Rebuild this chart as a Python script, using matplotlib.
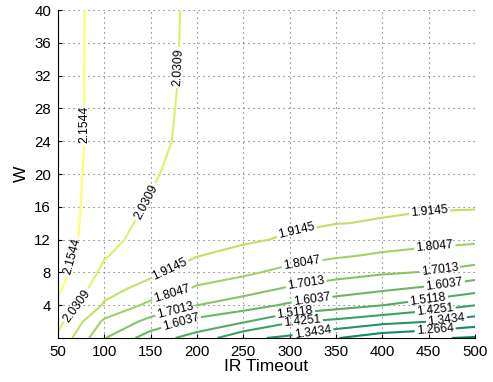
import numpy as np
import matplotlib
matplotlib.use('Agg')
import matplotlib.pyplot as plt
from matplotlib.colors import Normalize

plt.rcParams['font.family'] = ['Liberation Sans', 'DejaVu Sans']

# grid
ir_timeout = [50, 100, 150, 200, 250, 300, 350, 400, 450, 500]
w_values = [0, 2, 4, 6, 8, 10, 12, 14, 16, 20, 24, 32, 40]

z_values = [
    [2.0071, 1.7063, 1.5525, 1.4765, 1.3594, 1.3277, 1.2701, 1.2223, 1.2009, 1.1867],
    [2.0660, 1.7836, 1.6714, 1.5737, 1.5207, 1.4335, 1.4042, 1.3666, 1.3440, 1.3043],
    [2.1291, 1.9010, 1.7762, 1.7020, 1.6459, 1.5887, 1.5479, 1.5130, 1.4678, 1.4260],
    [2.1736, 1.9522, 1.8753, 1.7910, 1.7471, 1.6872, 1.6517, 1.6180, 1.5868, 1.5415],
    [2.2033, 2.0012, 1.9372, 1.8555, 1.8229, 1.7752, 1.7389, 1.7134, 1.6952, 1.6576],
    [2.2085, 2.0393, 1.9522, 1.9168, 1.8809, 1.8413, 1.8143, 1.7920, 1.7731, 1.7523],
    [2.2124, 2.0770, 1.9719, 1.9430, 1.9293, 1.9032, 1.8643, 1.8456, 1.8326, 1.8229],
    [2.2098, 2.0917, 1.9953, 1.9603, 1.9430, 1.9281, 1.9168, 1.9088, 1.8987, 1.8920],
    [2.2059, 2.1004, 2.0190, 1.9719, 1.9545, 1.9430, 1.9315, 1.9258, 1.9202, 1.9190],
    [2.1994, 2.1141, 2.0441, 1.9789, 1.9603, 1.9545, 1.9510, 1.9487, 1.9464, 1.9453],
    [2.1929, 2.1254, 2.0599, 1.9965, 1.9835, 1.9777, 1.9742, 1.9719, 1.9684, 1.9661],
    [2.1903, 2.1266, 2.0660, 2.0071, 1.9988, 1.9953, 1.9929, 1.9906, 1.9882, 1.9859],
    [2.1903, 2.1279, 2.0684, 2.0095, 2.0047, 2.0024, 2.0000, 1.9976, 1.9965, 1.9953],
]

levels = [1.1938, 1.2664, 1.3434, 1.4251, 1.5118, 1.6037, 1.7013,
          1.8047, 1.9145, 2.0309, 2.1544]

# where the inline labels sit
label_pos = [(78, 26), (66, 9.9),
             (181, 33), (147, 16.5), (72, 3.8),
             (171, 8.2), (308, 12.6), (451, 15.2),
             (173, 5.3), (314, 8.7), (457, 10.7),
             (177, 3.2), (318, 6.5), (462, 8.3),
             (183, 1.8), (324, 4.75), (467, 6.6),
             (306, 2.9), (449, 4.85),
             (314, 1.8), (457, 3.5),
             (325, 0.8), (469, 2.4),
             (457, 1.05)]

X, Y = np.meshgrid(ir_timeout, w_values)
Z = np.array(z_values)

fig = plt.figure(figsize=(4.93, 3.82), dpi=100)
ax = fig.add_axes([0.1176, 0.1152, 0.8459, 0.8586])

cs = ax.contour(X, Y, Z, levels=levels, cmap='summer',
                norm=Normalize(vmin=1.1938, vmax=2.1544), linewidths=1.5)
labels = ax.clabel(cs, manual=label_pos, fmt='%.4f',
                   fontsize=8.7, colors='black', inline=True, inline_spacing=2)

# the upper 2.1544 label reads bottom-up in the original
for t in labels:
    if t.get_text() == '2.1544' and abs(t.get_rotation() - 270) < 10:
        t.set_rotation(90)

ax.set_xlim(50, 500)
ax.set_ylim(0, 40)
ax.set_xticks(ir_timeout)
ax.set_yticks(range(4, 41, 4))
ax.grid(True, linestyle=(0, (1, 3.5)), color='0.4', linewidth=0.8)
ax.spines['top'].set_visible(False)
ax.spines['right'].set_visible(False)
ax.tick_params(direction='in', length=3, labelsize=10.8, pad=5)
ax.set_xlabel('IR Timeout', fontsize=12.5, labelpad=0)
ax.set_ylabel('W', fontsize=12.5, labelpad=4)

fig.savefig('out.png', dpi=100)
